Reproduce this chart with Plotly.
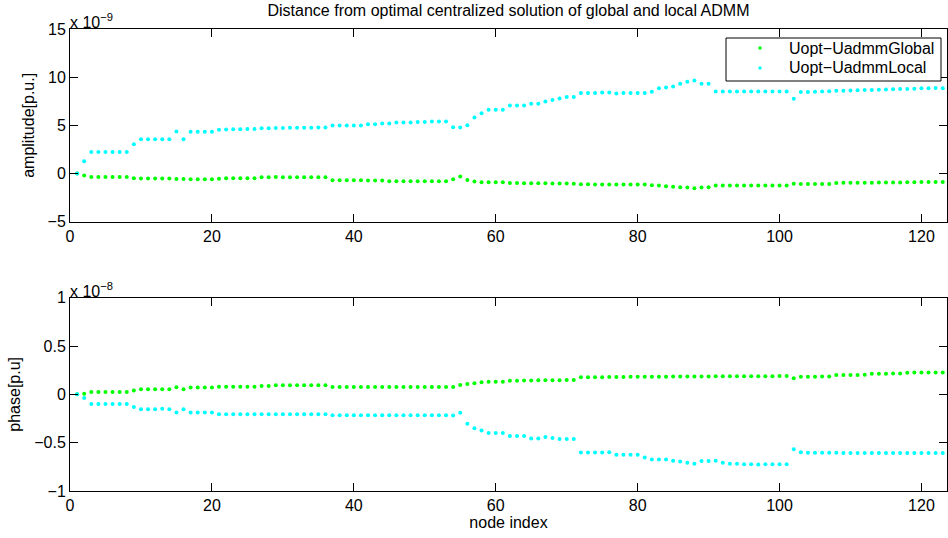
import plotly.graph_objects as go

# Node-wise deviation of ADMM solutions from the centralized optimum.
# Amplitude values are in units of 1e-9 p.u., phase values in units of 1e-8.
AMP_SCALE_LABEL = "x 10<sup>−9</sup>"
PHASE_SCALE_LABEL = "x 10<sup>−8</sup>"

amp_global = [
    0.00, -0.21, -0.35, -0.35, -0.35, -0.35, -0.35, -0.35,
    -0.49, -0.52, -0.52, -0.52, -0.52, -0.52, -0.58, -0.56,
    -0.60, -0.60, -0.60, -0.60, -0.53, -0.49, -0.49, -0.49,
    -0.49, -0.49, -0.38, -0.38, -0.37, -0.38, -0.38, -0.38,
    -0.38, -0.38, -0.38, -0.39, -0.70, -0.70, -0.70, -0.70,
    -0.70, -0.73, -0.73, -0.73, -0.79, -0.79, -0.79, -0.79,
    -0.79, -0.79, -0.79, -0.79, -0.79, -0.60, -0.32, -0.67,
    -0.84, -0.91, -0.91, -0.91, -0.91, -0.99, -0.99, -1.00,
    -1.00, -1.01, -1.02, -1.03, -1.03, -1.04, -1.05, -1.12,
    -1.12, -1.13, -1.13, -1.13, -1.14, -1.14, -1.15, -1.15,
    -1.15, -1.22, -1.25, -1.32, -1.36, -1.43, -1.46, -1.53,
    -1.46, -1.43, -1.23, -1.23, -1.23, -1.23, -1.23, -1.23,
    -1.23, -1.23, -1.23, -1.23, -1.23, -1.05, -1.10, -1.10,
    -1.10, -1.10, -1.10, -0.98, -0.97, -0.97, -0.96, -0.95,
    -0.95, -0.94, -0.93, -0.92, -0.92, -0.91, -0.90, -0.89,
    -0.88, -0.87, -0.87,
]

amp_local = [
    0.00, 1.27, 2.24, 2.24, 2.24, 2.24, 2.24, 2.24,
    3.04, 3.56, 3.56, 3.56, 3.56, 3.56, 4.36, 3.56,
    4.33, 4.33, 4.33, 4.33, 4.55, 4.58, 4.60, 4.60,
    4.62, 4.62, 4.70, 4.71, 4.72, 4.73, 4.74, 4.75,
    4.76, 4.76, 4.77, 4.78, 4.98, 4.98, 4.98, 4.98,
    4.98, 5.12, 5.12, 5.19, 5.19, 5.29, 5.29, 5.29,
    5.36, 5.36, 5.40, 5.40, 5.40, 4.80, 4.78, 5.01,
    5.81, 6.26, 6.62, 6.62, 6.62, 7.06, 7.06, 7.06,
    7.23, 7.23, 7.47, 7.63, 7.79, 7.93, 7.93, 8.35,
    8.35, 8.35, 8.41, 8.41, 8.31, 8.36, 8.36, 8.36,
    8.36, 8.48, 8.86, 8.93, 9.04, 9.31, 9.52, 9.66,
    9.31, 9.31, 8.51, 8.51, 8.51, 8.51, 8.51, 8.51,
    8.51, 8.51, 8.51, 8.51, 8.51, 7.75, 8.45, 8.47,
    8.50, 8.51, 8.54, 8.58, 8.60, 8.62, 8.64, 8.66,
    8.68, 8.70, 8.72, 8.74, 8.76, 8.78, 8.80, 8.84,
    8.86, 8.88, 8.84,
]

phase_global = [
    0.000, 0.007, 0.024, 0.024, 0.024, 0.024, 0.024, 0.024,
    0.041, 0.052, 0.052, 0.052, 0.052, 0.052, 0.073, 0.052,
    0.070, 0.070, 0.070, 0.070, 0.078, 0.078, 0.078, 0.078,
    0.078, 0.078, 0.086, 0.086, 0.093, 0.093, 0.093, 0.093,
    0.093, 0.093, 0.093, 0.093, 0.075, 0.075, 0.075, 0.075,
    0.075, 0.075, 0.075, 0.075, 0.075, 0.075, 0.075, 0.075,
    0.075, 0.075, 0.075, 0.075, 0.075, 0.075, 0.097, 0.107,
    0.114, 0.124, 0.131, 0.131, 0.131, 0.142, 0.142, 0.143,
    0.144, 0.145, 0.146, 0.146, 0.147, 0.148, 0.149, 0.176,
    0.177, 0.178, 0.178, 0.179, 0.180, 0.180, 0.181, 0.181,
    0.182, 0.182, 0.183, 0.183, 0.184, 0.184, 0.184, 0.185,
    0.185, 0.185, 0.186, 0.186, 0.186, 0.187, 0.187, 0.187,
    0.188, 0.188, 0.188, 0.189, 0.189, 0.166, 0.183, 0.183,
    0.183, 0.184, 0.184, 0.200, 0.200, 0.201, 0.201, 0.202,
    0.213, 0.214, 0.214, 0.215, 0.215, 0.224, 0.225, 0.225,
    0.226, 0.226, 0.226,
]

phase_local = [
    0.000, -0.038, -0.100, -0.100, -0.100, -0.100, -0.100, -0.100,
    -0.131, -0.155, -0.155, -0.155, -0.149, -0.155, -0.187, -0.155,
    -0.187, -0.187, -0.187, -0.187, -0.207, -0.207, -0.207, -0.207,
    -0.207, -0.207, -0.207, -0.207, -0.207, -0.207, -0.207, -0.207,
    -0.207, -0.207, -0.207, -0.207, -0.215, -0.215, -0.215, -0.215,
    -0.215, -0.215, -0.215, -0.215, -0.215, -0.215, -0.215, -0.215,
    -0.215, -0.215, -0.215, -0.215, -0.215, -0.218, -0.190, -0.304,
    -0.352, -0.373, -0.400, -0.400, -0.400, -0.432, -0.432, -0.432,
    -0.456, -0.456, -0.442, -0.452, -0.463, -0.463, -0.463, -0.602,
    -0.602, -0.602, -0.602, -0.600, -0.625, -0.625, -0.625, -0.625,
    -0.653, -0.674, -0.674, -0.674, -0.687, -0.694, -0.708, -0.718,
    -0.690, -0.690, -0.687, -0.708, -0.718, -0.718, -0.722, -0.722,
    -0.725, -0.722, -0.722, -0.722, -0.722, -0.567, -0.600, -0.603,
    -0.603, -0.605, -0.605, -0.605, -0.606, -0.606, -0.606, -0.606,
    -0.606, -0.606, -0.606, -0.606, -0.606, -0.606, -0.606, -0.606,
    -0.606, -0.606, -0.606,
]

for series in (amp_global, amp_local, phase_global, phase_local):
    assert len(series) == 123

nodes = list(range(1, len(amp_global) + 1))

x_ticks = [0, 20, 40, 60, 80, 100, 120]
amp_ticks = [-5, 0, 5, 10, 15]
phase_ticks = [-1, -0.5, 0, 0.5, 1]

series_names = ["Uopt−UadmmGlobal", "Uopt−UadmmLocal"]

GREEN = "#00ff00"
CYAN = "#00ffff"
FONT = "Liberation Sans, Arial, Helvetica, sans-serif"
FONT_SIZE = 16
TEXT_FONT = dict(family=FONT, size=FONT_SIZE, color="black")
MARKER_SIZE = 4

W, H = 948, 538
M_L, M_R, M_T, M_B = 70, 1, 29, 47
PLOT_W = W - M_L - M_R
PLOT_H = H - M_T - M_B


def paper_x(px):
    """Horizontal page pixel -> paper fraction."""
    return (px - M_L) / PLOT_W


def paper_y(py):
    """Vertical page pixel (from top) -> paper fraction."""
    return (H - M_B - py) / PLOT_H


fig = go.Figure()
fig.add_trace(go.Scatter(x=nodes, y=amp_global, mode="markers", name=series_names[0],
                         marker=dict(color=GREEN, size=MARKER_SIZE), xaxis="x", yaxis="y"))
fig.add_trace(go.Scatter(x=nodes, y=amp_local, mode="markers", name=series_names[1],
                         marker=dict(color=CYAN, size=MARKER_SIZE), xaxis="x", yaxis="y"))
fig.add_trace(go.Scatter(x=nodes, y=phase_global, mode="markers", name=series_names[0],
                         marker=dict(color=GREEN, size=MARKER_SIZE), xaxis="x2", yaxis="y2"))
fig.add_trace(go.Scatter(x=nodes, y=phase_local, mode="markers", name=series_names[1],
                         marker=dict(color=CYAN, size=MARKER_SIZE), xaxis="x2", yaxis="y2"))

axis_style = dict(
    showline=True, linecolor="black", linewidth=1, mirror="ticks",
    ticks="inside", ticklen=8, tickwidth=1, tickcolor="black",
    showgrid=False, zeroline=False,
    tickfont=TEXT_FONT,
)

TOP_DOMAIN = [paper_y(221.7), 1.0]
BOTTOM_DOMAIN = [0.0, paper_y(297.7)]

fig.update_layout(
    width=W, height=H,
    margin=dict(l=M_L, r=M_R, t=M_T, b=M_B),
    paper_bgcolor="white", plot_bgcolor="white",
    font=TEXT_FONT,
    showlegend=False,
    xaxis=dict(axis_style, domain=[0, 1], range=[0, 123.6], tickvals=x_ticks, anchor="y"),
    yaxis=dict(axis_style, domain=TOP_DOMAIN, range=[-5, 15], tickvals=amp_ticks,
               title=dict(text="amplitude[p.u.]", font=TEXT_FONT, standoff=8), anchor="x"),
    xaxis2=dict(axis_style, domain=[0, 1], range=[0, 123.6], tickvals=x_ticks, anchor="y2",
                title=dict(text="node index", font=TEXT_FONT, standoff=2)),
    yaxis2=dict(axis_style, domain=BOTTOM_DOMAIN, range=[-1, 1], tickvals=phase_ticks,
                title=dict(text="phase[p.u]", font=TEXT_FONT, standoff=9), anchor="x2"),
    title=dict(text="Distance from optimal centralized solution of global and local ADMM",
               font=TEXT_FONT,
               x=(M_L + W - M_R) / 2 / W, xanchor="center", xref="container",
               y=1 - 10 / H, yanchor="middle", yref="container"),
)

# Scale factor labels above the upper-left corner of each axes
for label, top in ((AMP_SCALE_LABEL, TOP_DOMAIN[1]), (PHASE_SCALE_LABEL, BOTTOM_DOMAIN[1])):
    fig.add_annotation(text=label, xref="paper", yref="paper", x=0, y=top,
                       xanchor="left", yanchor="bottom", showarrow=False,
                       font=TEXT_FONT, xshift=-2, yshift=-4)

# Boxed key in the upper-right corner of the amplitude axes
box_left, box_right, box_top, box_bottom = 726, 941, 38, 81
fig.add_shape(type="rect", xref="paper", yref="paper",
              x0=paper_x(box_left), x1=paper_x(box_right),
              y0=paper_y(box_bottom), y1=paper_y(box_top),
              line=dict(color="black", width=1), fillcolor="white", layer="above")
for name, color, row_y in ((series_names[0], GREEN, 48), (series_names[1], CYAN, 68)):
    fig.add_shape(type="circle", xref="paper", yref="paper",
                  xsizemode="pixel", ysizemode="pixel",
                  xanchor=paper_x(760), yanchor=paper_y(row_y),
                  x0=-1.7, x1=1.7, y0=-1.7, y1=1.7,
                  fillcolor=color, line=dict(width=0), layer="above")
    fig.add_annotation(text=name, xref="paper", yref="paper",
                       x=paper_x(787), y=paper_y(row_y), xanchor="left", yanchor="middle",
                       showarrow=False, font=TEXT_FONT)

fig.write_html("out.html")
